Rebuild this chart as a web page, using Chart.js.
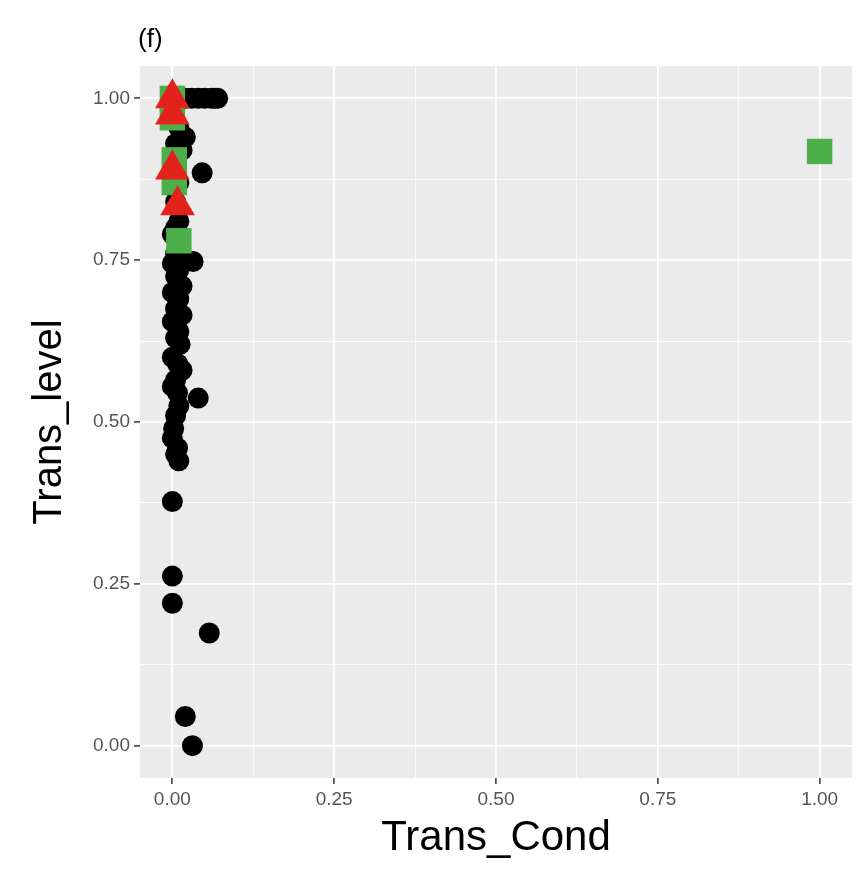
<!DOCTYPE html>
<html>
<head>
<meta charset="utf-8">
<script src="https://cdn.jsdelivr.net/npm/chart.js@4/dist/chart.umd.min.js"></script>
<style>
html,body{margin:0;padding:0;background:#fff;}
#wrap{width:865px;height:874px;position:relative;}
</style>
</head>
<body>
<div id="wrap"><canvas id="c" width="865" height="874"></canvas></div>
<script>
// ---- data ----
const panelTitle = "(f)";
const xTitle = "Trans_Cond";
const yTitle = "Trans_level";
const gridValues = [0, 0.125, 0.25, 0.375, 0.5, 0.625, 0.75, 0.875, 1];
const majorTicks = [0, 0.25, 0.5, 0.75, 1];

const blackX = [0.0, 0.01, 0.02, 0.03, 0.04, 0.05, 0.06, 0.065, 0.07,
  0.0, 0.01, 0.02, 0.005, 0.015, 0.046, 0.01, 0.005,
  0.005, 0.01, 0.005, 0.0, 0.01, 0.005, 0.032, 0.0, 0.01, 0.005, 0.015, 0.0,
  0.01, 0.005, 0.015, 0.0, 0.01, 0.005, 0.012, 0.0, 0.008, 0.015, 0.005, 0.0,
  0.008, 0.04, 0.01, 0.005, 0.002, 0.0, 0.008, 0.005, 0.01,
  0.0, 0.0, 0.0, 0.057, 0.02, 0.031];
const blackY = [1.0, 1.0, 1.0, 1.0, 1.0, 1.0, 1.0, 1.0, 1.0,
  0.97, 0.955, 0.94, 0.93, 0.92, 0.885, 0.87, 0.86,
  0.84, 0.81, 0.80, 0.79, 0.77, 0.76, 0.748, 0.745, 0.735, 0.725, 0.71, 0.70,
  0.69, 0.675, 0.665, 0.655, 0.64, 0.63, 0.62, 0.60, 0.59, 0.58, 0.565, 0.555,
  0.545, 0.537, 0.525, 0.51, 0.49, 0.475, 0.46, 0.45, 0.44,
  0.377, 0.262, 0.22, 0.174, 0.045, 0.0];

const greenX = [0.0, 0.0, 0.003, 0.003, 0.01, 1.0];
const greenY = [1.0, 0.97, 0.905, 0.87, 0.78, 0.918];

const redX = [0.0, 0.0, 0.0, 0.008];
const redY = [1.0, 0.975, 0.89, 0.835];

// ---- build ----
const toPts = (xs, ys) => xs.map((x, i) => ({x: x, y: ys[i]}));
const isMajor = v => majorTicks.some(m => Math.abs(m - v) < 1e-9);

const bgPlugin = {
  id: 'panelBg',
  beforeDraw(chart) {
    const {ctx, chartArea: a} = chart;
    ctx.save();
    ctx.fillStyle = '#EBEBEB';
    ctx.fillRect(a.left, a.top, a.right - a.left, a.bottom - a.top);
    ctx.restore();
  },
  afterDraw(chart) {
    const {ctx, chartArea: a} = chart;
    ctx.save();
    ctx.fillStyle = '#000';
    ctx.font = '26px "Liberation Sans", Arial, sans-serif';
    ctx.textBaseline = 'alphabetic';
    ctx.textAlign = 'left';
    ctx.fillText(panelTitle, a.left - 2, 47);
    ctx.restore();
  }
};

function axisCommon(title, titleSize) {
  return {
    type: 'linear',
    min: -0.05,
    max: 1.05,
    afterBuildTicks: s => { s.ticks = gridValues.map(v => ({value: v})); },
    border: {display: false},
    grid: {
      drawOnChartArea: true,
      drawTicks: true,
      tickLength: 6,
      color: c => '#FFFFFF',
      lineWidth: c => isMajor(c.tick.value) ? 1.8 : 0.8,
      tickColor: c => isMajor(c.tick.value) ? '#333333' : 'rgba(0,0,0,0)',
      tickWidth: c => isMajor(c.tick.value) ? 1.5 : 0
    },
    ticks: {
      autoSkip: false,
      maxRotation: 0,
      color: '#555555',
      font: {family: '"Liberation Sans", Arial, sans-serif', size: 19},
      padding: 4,
      callback: v => isMajor(v) ? v.toFixed(2) : ''
    },
    title: {
      display: true,
      text: title,
      color: '#000',
      font: {family: '"Liberation Sans", Arial, sans-serif', size: titleSize},
      padding: {top: 0, bottom: 0}
    }
  };
}

const xScale = axisCommon(xTitle, 42);
xScale.position = 'bottom';
xScale.afterFit = s => { s.height = 874 - 778 - 10; s.paddingRight = 0; s.paddingLeft = 0; };
const yScale = axisCommon(yTitle, 40);
yScale.position = 'left';
yScale.afterFit = s => { s.width = 140 - 26; s.paddingTop = 0; s.paddingBottom = 0; };

new Chart(document.getElementById('c'), {
  type: 'scatter',
  data: {
    datasets: [
      {label: 'red', data: toPts(redX, redY), pointStyle: 'triangle', pointRadius: 20, clip: false,
       backgroundColor: '#E3231B', borderColor: '#E3231B', borderWidth: 0, pointHoverRadius: 20},
      {label: 'green', data: toPts(greenX, greenY), pointStyle: 'rect', pointRadius: 18, clip: false,
       backgroundColor: '#4DAF4A', borderColor: '#4DAF4A', borderWidth: 0, pointHoverRadius: 18},
      {label: 'black', data: toPts(blackX, blackY), pointStyle: 'circle', pointRadius: 10.5, clip: false,
       backgroundColor: '#000000', borderColor: '#000000', borderWidth: 0, pointHoverRadius: 10.5}
    ]
  },
  options: {
    responsive: false,
    animation: false,
    events: [],
    layout: {autoPadding: false, padding: {top: 66, right: 13, bottom: 10, left: 26}},
    plugins: {legend: {display: false}, tooltip: {enabled: false}, title: {display: false}},
    scales: {x: xScale, y: yScale}
  },
  plugins: [bgPlugin]
});
</script>
</body>
</html>
